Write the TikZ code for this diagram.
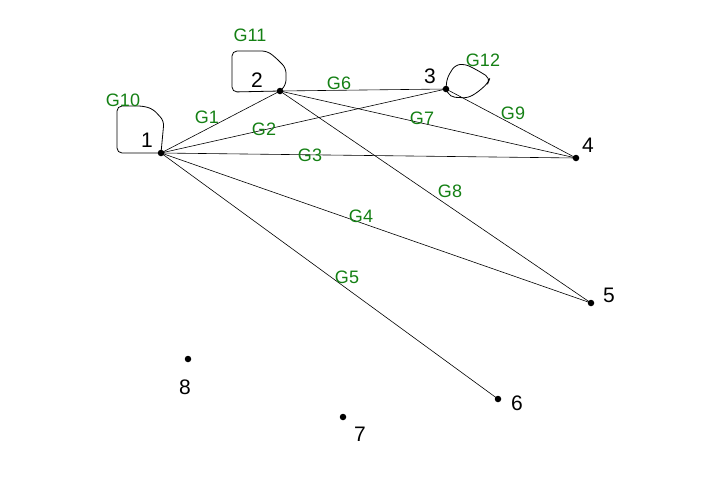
\documentclass[tikz,border=0pt]{standalone}
\usepackage{fontspec}
\setmainfont{Liberation Sans}
\definecolor{glab}{RGB}{20,128,20}
\begin{document}
\begin{tikzpicture}[x=1pt,y=-1pt,
  vtx/.style={circle,fill=black,inner sep=0pt,minimum size=6.5pt},
  num/.style={font=\fontsize{21}{23}\selectfont,inner sep=0pt},
  elab/.style={font=\fontsize{18}{20}\selectfont,text=glab,inner sep=0pt},
  edge/.style={draw=black,line width=0.6pt},
  loopline/.style={draw=black,line width=0.8pt,rounded corners=5pt}]
\useasboundingbox[fill=white] (0,0) rectangle (721,493);
% vertices
\node[vtx] (n1) at (161,153) {};
\node[vtx] (n2) at (280,91) {};
\node[vtx] (n3) at (446,89) {};
\node[vtx] (n4) at (576,158) {};
\node[vtx] (n5) at (591,303) {};
\node[vtx] (n6) at (498,399) {};
\node[vtx] (n7) at (343,417) {};
\node[vtx] (n8) at (188,359) {};
% vertex numbers
\node[num] (l1) at (147,140) {1};
\node[num] (l2) at (257,80) {2};
\node[num] (l3) at (430,76) {3};
\node[num] (l4) at (588,145) {4};
\node[num] (l5) at (609,295) {5};
\node[num] (l6) at (517,403) {6};
\node[num] (l7) at (360,434) {7};
\node[num] (l8) at (185,387) {8};
% edges
\draw[edge] (n1.center) -- (n2.center);
\draw[edge] (n1.center) -- (n3.center);
\draw[edge] (n1.center) -- (n4.center);
\draw[edge] (n1.center) -- (n5.center);
\draw[edge] (n1.center) -- (n6.center);
\draw[edge] (n2.center) -- (n3.center);
\draw[edge] (n2.center) -- (n4.center);
\draw[edge] (n2.center) -- (n5.center);
\draw[edge] (n3.center) -- (n4.center);
% loops
\draw[loopline] (n1.center) -- (164,121) -- (153,109) -- (143,106) -- (117,106) -- (117,153) -- (n1.center);
\draw[loopline] (n2.center) -- (286,85) -- (286,68) -- (275,57) -- (267,51) -- (232,51) -- (232,92) -- (n2.center);
\draw[loopline] (n3.center) -- (447,78) -- (455,65) -- (465,64) -- (477,70) -- (490,78) -- (488,83) -- (478,92) -- (468,98) -- (450,97) -- (n3.center);
% edge labels
\node[elab] (g1) at (207,117) {G1};
\node[elab] (g2) at (264,129) {G2};
\node[elab] (g3) at (310,155) {G3};
\node[elab] (g4) at (361,216) {G4};
\node[elab] (g5) at (347,277) {G5};
\node[elab] (g6) at (339,83) {G6};
\node[elab] (g7) at (422,118) {G7};
\node[elab] (g8) at (450,191) {G8};
\node[elab] (g9) at (513,113) {G9};
\node[elab] (g10) at (123,100) {G10};
\node[elab] (g11) at (250,35) {G11};
\node[elab] (g12) at (483,60) {G12};
\end{tikzpicture}
\end{document}
